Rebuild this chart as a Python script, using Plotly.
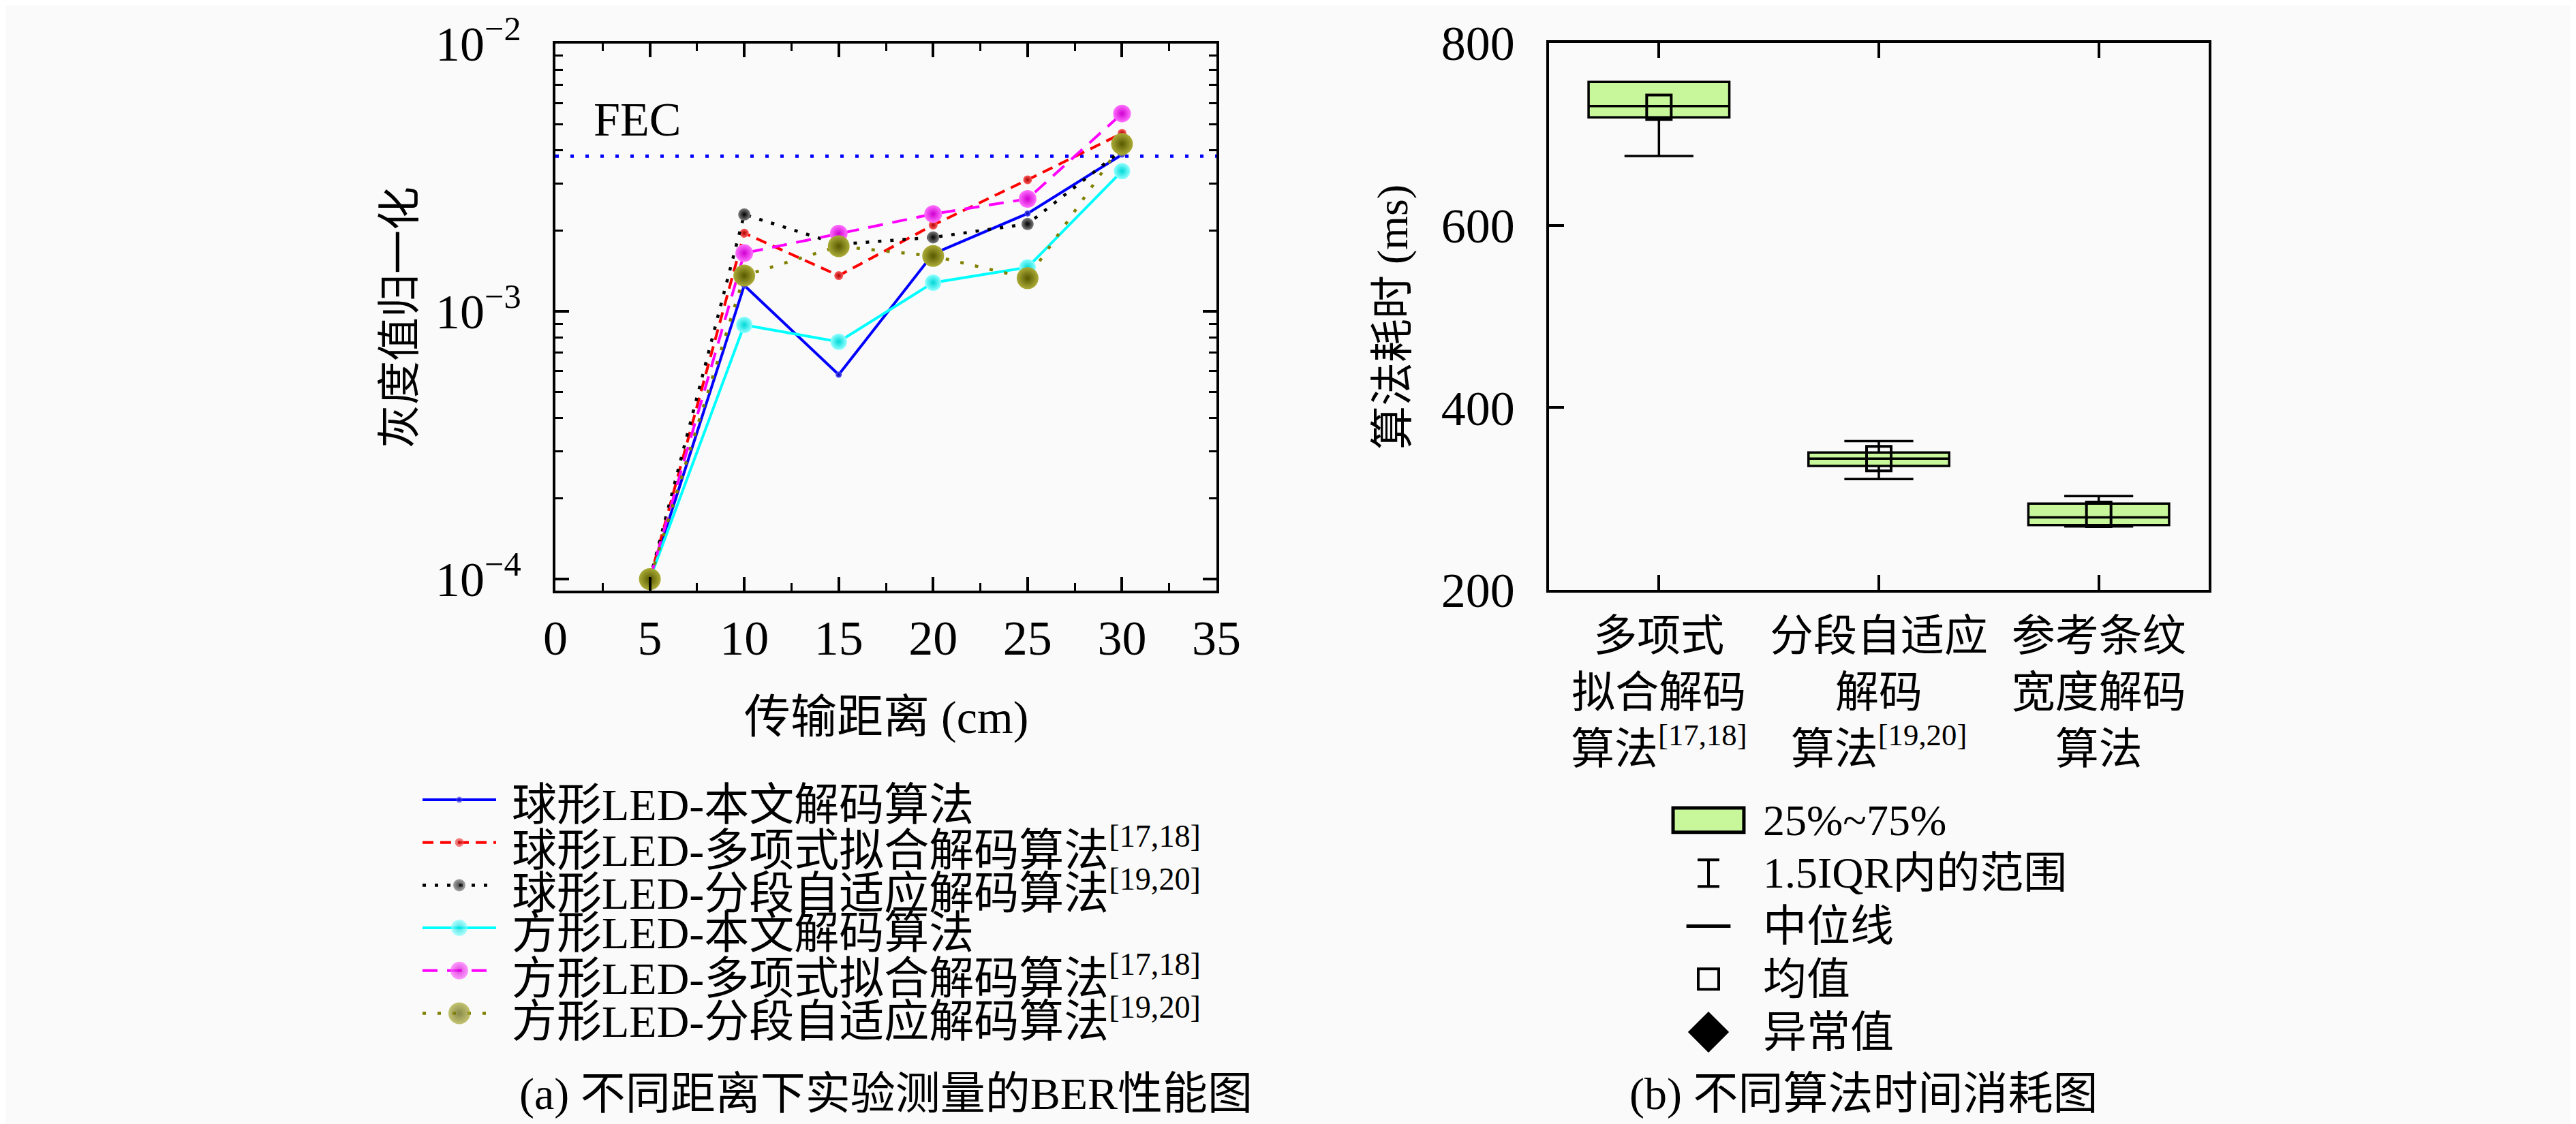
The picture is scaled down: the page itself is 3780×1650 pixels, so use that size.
import plotly.graph_objects as go

# /// --- DATA --- \\\
distance_cm = [5, 10, 15, 20, 25, 30]
ball_ours = [1.0e-4, 1.25e-3, 5.8e-4, 1.64e-3, 2.32e-3, 3.85e-3]
ball_poly = [1.0e-4, 1.96e-3, 1.36e-3, 2.10e-3, 3.10e-3, 4.62e-3]
ball_seg = [1.0e-4, 2.30e-3, 1.78e-3, 1.89e-3, 2.12e-3, 4.00e-3]
square_ours = [1.0e-4, 8.9e-4, 7.7e-4, 1.28e-3, 1.46e-3, 3.34e-3]
square_poly = [1.0e-4, 1.65e-3, 1.95e-3, 2.31e-3, 2.63e-3, 5.48e-3]
square_seg = [1.0e-4, 1.36e-3, 1.75e-3, 1.61e-3, 1.33e-3, 4.22e-3]
fec_limit = 3.8e-3

series_names = [
    "球形LED-本文解码算法",
    "球形LED-多项式拟合解码算法<sup>[17,18]</sup>",
    "球形LED-分段自适应解码算法<sup>[19,20]</sup>",
    "方形LED-本文解码算法",
    "方形LED-多项式拟合解码算法<sup>[17,18]</sup>",
    "方形LED-分段自适应解码算法<sup>[19,20]</sup>",
]

algo_labels = [
    "多项式<br>拟合解码<br>算法<sup>[17,18]</sup>",
    "分段自适应<br>解码<br>算法<sup>[19,20]</sup>",
    "参考条纹<br>宽度解码<br>算法",
]
t_q1 = [718.3, 336.0, 271.2]
t_median = [730.7, 344.0, 279.5]
t_q3 = [757.2, 350.7, 294.8]
t_low = [676.0, 321.6, 269.6]
t_high = [757.2, 363.3, 303.0]
t_mean = [729.3, 344.0, 283.0]

box_legend_labels = ["25%~75%", "1.5IQR内的范围", "中位线", "均值", "异常值"]

x_ticks = [0, 5, 10, 15, 20, 25, 30, 35]
y_ticks = [1e-4, 1e-3, 1e-2]
y_ticktext = ["10<sup>−4</sup>", "10<sup>−3</sup>", "10<sup>−2</sup>"]
y_minor = [m * 10.0 ** e for e in (-4, -3) for m in range(2, 10)]

# /// --- STYLE --- \\\
W, H = 3780, 1650
FONT = "Liberation Serif, Noto Sans CJK SC"
FS = 64
TICK_FS = 72
BG = "#fafafa"


def px(x):
    return x / W


def py(y):
    return 1 - y / H


styles = [
    dict(color="#0000ff", dash="solid", width=4, size=9, hi="#5050ff", lo="#0000b0"),
    dict(color="#ff0000", dash="16px,10px", width=4, size=13, hi="#ff6060", lo="#b00000"),
    dict(color="#000000", dash="5px,13px", width=4.5, size=18, hi="#808080", lo="#000000"),
    dict(color="#00ffff", dash="solid", width=4, size=24, hi="#90ffff", lo="#00d8d8"),
    dict(color="#ff00ff", dash="22px,14px", width=4, size=26, hi="#ff70ff", lo="#d000d0"),
    dict(color="#808000", dash="5px,17px", width=4.5, size=32, hi="#acac38", lo="#585800"),
]
series_values = [ball_ours, ball_poly, ball_seg, square_ours, square_poly, square_seg]

fig = go.Figure()

# /// --- LEFT: BER vs distance --- \\\
fig.add_trace(go.Scatter(
    x=[x_ticks[0], x_ticks[-1]], y=[fec_limit, fec_limit], mode="lines",
    line=dict(color="#0000ff", width=5, dash="5px,17px"),
    showlegend=False, xaxis="x", yaxis="y"))

for vals, st in zip(series_values, styles):
    fig.add_trace(go.Scatter(
        x=distance_cm, y=vals, mode="lines+markers",
        line=dict(color=st["color"], width=st["width"], dash=st["dash"]),
        marker=dict(size=st["size"], color=st["hi"],
                    gradient=dict(type="radial", color=st["lo"]), line=dict(width=0)),
        showlegend=False, xaxis="x", yaxis="y"))

# legend samples (left), drawn on a hidden helper axis
for i, st in enumerate(styles):
    fig.add_trace(go.Scatter(
        x=[0, 0.5, 1], y=[i, i, i], mode="lines+markers",
        line=dict(color=st["color"], width=st["width"], dash=st["dash"]),
        marker=dict(size=[0, st["size"], 0], color=st["hi"],
                    gradient=dict(type="radial", color=st["lo"]), line=dict(width=0)),
        showlegend=False, xaxis="x3", yaxis="y3", hoverinfo="skip"))

# /// --- RIGHT: time cost box plot --- \\\
fig.add_trace(go.Box(
    x=[0, 1, 2], q1=t_q1, median=t_median, q3=t_q3,
    lowerfence=t_low, upperfence=t_high, width=0.64, whiskerwidth=0.49,
    fillcolor="#c8f79b", line=dict(color="black", width=3.5),
    boxpoints=False, showlegend=False, xaxis="x2", yaxis="y2"))
fig.add_trace(go.Scatter(
    x=[0, 1, 2], y=t_mean, mode="markers",
    marker=dict(symbol="square-open", size=36, color="black",
                line=dict(width=4, color="black")),
    showlegend=False, xaxis="x2", yaxis="y2"))

# legend samples (right)
fig.add_trace(go.Scatter(
    x=[0.5], y=[1], mode="markers", marker=dict(size=0.1, color="black"),
    error_y=dict(type="data", array=[0.25], color="black", thickness=4, width=16),
    showlegend=False, xaxis="x4", yaxis="y4", hoverinfo="skip"))
fig.add_trace(go.Scatter(
    x=[0.23, 0.77], y=[2, 2], mode="lines", line=dict(color="black", width=5),
    showlegend=False, xaxis="x4", yaxis="y4", hoverinfo="skip"))
fig.add_trace(go.Scatter(
    x=[0.5, 0.5], y=[3, 4], mode="markers",
    marker=dict(symbol=["square-open", "diamond"], size=[30, 42], color="black",
                opacity=1, line=dict(width=4, color="black")),
    showlegend=False, xaxis="x4", yaxis="y4", hoverinfo="skip"))

axis_common = dict(showline=True, linecolor="black", linewidth=4, mirror="ticks",
                   ticks="inside", tickcolor="black", tickwidth=3.5, showgrid=False,
                   zeroline=False, tickfont=dict(family=FONT, size=TICK_FS, color="black"))
hidden = dict(visible=False, showgrid=False, zeroline=False, fixedrange=True)

fig.update_layout(
    width=W, height=H, margin=dict(l=0, r=0, t=0, b=0, autoexpand=False),
    paper_bgcolor=BG, plot_bgcolor=BG, showlegend=False,
    font=dict(family=FONT, size=FS, color="black"),
    xaxis=dict(domain=[px(807), px(1777)], range=[0, 35], tickvals=x_ticks,
               ticklen=20, ticklabelstandoff=4,
               minor=dict(dtick=2.5, ticks="inside", ticklen=11, tickwidth=3, tickcolor="black"),
               anchor="y", **axis_common),
    yaxis=dict(domain=[py(859), py(56)], type="log", range=[-4.043, -2],
               tickvals=y_ticks, ticktext=y_ticktext, ticklen=20, ticklabelstandoff=32,
               minor=dict(tickvals=y_minor, ticks="inside", ticklen=11, tickwidth=3,
                          tickcolor="black"),
               anchor="x", **axis_common),
    xaxis2=dict(domain=[px(2265), px(3233)], range=[-0.5, 2.5], tickvals=[0, 1, 2],
                ticktext=algo_labels, ticklen=22, ticklabelstandoff=8,
                anchor="y2",
                **{**axis_common, "linewidth": 3.5,
                   "tickfont": dict(family=FONT, size=FS, color="black")}),
    yaxis2=dict(domain=[py(858), py(55)], range=[200, 800], dtick=200, ticklen=22,
                ticklabelstandoff=32, anchor="x2",
                **{**axis_common, "linewidth": 3.5, "mirror": True}),
    yaxis5=dict(overlaying="y2", side="right", anchor="x2", range=[200, 800], dtick=100,
                ticks="inside", ticklen=22, tickwidth=3.5, tickcolor="black",
                showticklabels=False, showline=False, showgrid=False, zeroline=False),
    xaxis3=dict(domain=[px(612), px(720)], range=[0, 1], anchor="y3", **hidden),
    yaxis3=dict(domain=[py(1166 + 5.5 * 62.7), py(1166 - 0.5 * 62.7)], range=[5.5, -0.5],
                anchor="x3", **hidden),
    xaxis4=dict(domain=[px(2439), px(2559)], range=[0, 1], anchor="y4", **hidden),
    yaxis4=dict(domain=[py(1546), py(1157)], range=[4.5, -0.5], anchor="x4", **hidden),
)

# box legend icon
fig.add_shape(type="rect", xref="x4", yref="y4", x0=0.067, x1=0.933, y0=-0.23, y1=0.23,
              fillcolor="#c8f79b", line=dict(color="black", width=5))

ann = []
ann.append(dict(text="FEC", x=px(861), y=py(168), xanchor="left", yanchor="middle",
                size=70))
ann.append(dict(text="灰度值归一化", x=px(578), y=py(458), textangle=-90,
                xanchor="center", yanchor="middle"))
ann.append(dict(text="传输距离 (cm)", x=px(1292), y=py(1045),
                xanchor="center", yanchor="middle", size=68))
ann.append(dict(text="算法耗时 (ms)", x=px(2035), y=py(458), textangle=-90,
                xanchor="center", yanchor="middle"))
for i, name in enumerate(series_names):
    ann.append(dict(text=name, x=px(741), y=py(1173 + i * 62.7),
                    xanchor="left", yanchor="middle", size=66))
for i, lab in enumerate(box_legend_labels):
    ann.append(dict(text=lab, x=px(2577), y=py(1196 + i * 77.75),
                    xanchor="left", yanchor="middle"))
ann.append(dict(text="(a) 不同距离下实验测量的BER性能图", x=px(1292), y=py(1598),
                xanchor="center", yanchor="middle", size=66))
ann.append(dict(text="(b) 不同算法时间消耗图", x=px(2726), y=py(1598),
                xanchor="center", yanchor="middle", size=66))
for a in ann:
    size = a.pop("size", FS)
    a.update(xref="paper", yref="paper", showarrow=False,
             font=dict(family=FONT, size=size, color="black"))
fig.update_layout(annotations=ann)

fig.write_html("out.html")
